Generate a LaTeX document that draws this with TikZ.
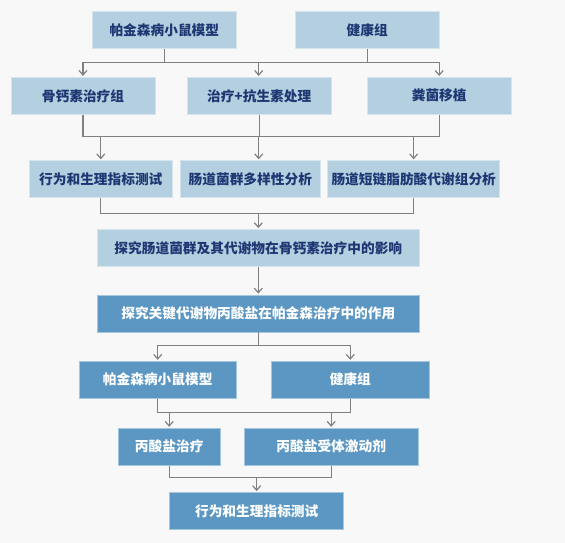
\documentclass[tikz,border=0pt]{standalone}
\usepackage{fontspec}
\setmainfont{Noto Sans CJK SC}
\usepackage{tikz}
\usetikzlibrary{arrows.meta}
\usetikzlibrary{positioning}
\definecolor{LightBox}{RGB}{179,207,224}
\definecolor{DarkBox}{RGB}{91,151,194}
\definecolor{NavyText}{RGB}{30,55,115}
\definecolor{LineGray}{RGB}{128,128,128}
\definecolor{PageBg}{RGB}{248,248,248}
\tikzstyle{link} = [line width=1.2pt, LineGray]
\tikzstyle{arrow} = [link, -{Straight Barb[length=4.5pt, width=8pt]}, shorten >=1pt]

\begin{document}
\begin{tikzpicture}[x=1pt, y=-1pt,
        lightbox/.style={draw=white!45!LightBox, line width=0.8pt, fill=LightBox, text=NavyText, font=\bfseries\fontsize{13.7}{16}\selectfont, minimum width=#1, minimum height=37pt, inner sep=2pt},
        darkbox/.style={lightbox=#1, fill=DarkBox, draw=white!45!DarkBox, text=white}
    ]
        \fill[PageBg] (0,0) rectangle (565,543);
        
        \node[lightbox=143.3pt] (pdmodel) at (164.3,30.2) {帕金森病小鼠模型};
        \node[lightbox=144.3pt] (healthy) at (367.2,30.2) {健康组};
        
        \node[lightbox=144pt] (ocn) at (83,95.8) {骨钙素治疗组};
        \node[lightbox=143.7pt] (abx) at (259.2,95.8) {治疗+抗生素处理};
        \node[lightbox=144.3pt] (fmt) at (439.2,95.8) {粪菌移植};
        
        \node[lightbox=143.7pt] (behav) at (100.8,179.2) {行为和生理指标测试};
        \node[lightbox=140.7pt] (micro) at (250.3,179.2) {肠道菌群多样性分析};
        \node[lightbox=172pt] (scfa) at (413.7,179.2) {肠道短链脂肪酸代谢组分析};
        
        \node[lightbox=322.7pt] (gut) at (258.3,248) {探究肠道菌群及其代谢物在骨钙素治疗中的影响};
        \node[darkbox=322.7pt] (prop) at (258.3,313.5) {探究关键代谢物丙酸盐在帕金森治疗中的作用};
        
        \node[darkbox=156.7pt] (pdmodel2) at (157.7,379.7) {帕金森病小鼠模型};
        \node[darkbox=157.3pt] (healthy2) at (350.3,379.7) {健康组};
        
        \node[darkbox=101.7pt] (proptx) at (169.2,446.7) {丙酸盐治疗};
        \node[darkbox=174.3pt] (agonist) at (331.2,446.7) {丙酸盐受体激动剂};
        
        \node[darkbox=174pt] (behav2) at (256.7,511) {行为和生理指标测试};
        
        \coordinate (j1) at (258.7,62.3);
        \draw[link] (pdmodel.south) |- (j1);
        \draw[link] (healthy.south) |- (j1);
        \draw[arrow] (j1) -| (ocn.north);
        \draw[arrow] (j1) -- (j1 |- abx.north);
        \draw[arrow] (j1) -| (fmt.north);
        
        \coordinate (j2) at (258.7,136.7);
        \draw[link] (ocn.south) |- (j2);
        \draw[link] (abx.south) |- (j2);
        \draw[link] (fmt.south) |- (j2);
        \draw[arrow] (j2) -| (behav.north);
        \draw[arrow] (j2) -- (j2 |- micro.north);
        \draw[arrow] (j2) -| (scfa.north);
        
        \coordinate (j3) at (258.3,213.3);
        \draw[link] (behav.south) |- (j3);
        \draw[link] (scfa.south) |- (j3);
        \draw[arrow] (j3) -- (gut.north);
        
        \draw[arrow] (gut) -- (prop);
        
        \coordinate (j4) at (258.3,345.7);
        \draw[link] (prop.south) -- (j4);
        \draw[arrow] (j4) -| (pdmodel2.north);
        \draw[arrow] (j4) -| (healthy2.north);
        
        \coordinate (j5) at (254,412.7);
        \draw[link] (pdmodel2.south) |- (j5) -| (healthy2.south);
        \draw[arrow] (j5 -| proptx.north) -- (proptx.north);
        \draw[arrow] (j5 -| agonist.north) -- (agonist.north);
        
        \coordinate (j6) at (256.7,477.7);
        \draw[link] (proptx.south) |- (j6) -| (agonist.south);
        \draw[arrow] (j6) -- (behav2.north);
        
    \end{tikzpicture}
\end{document}
